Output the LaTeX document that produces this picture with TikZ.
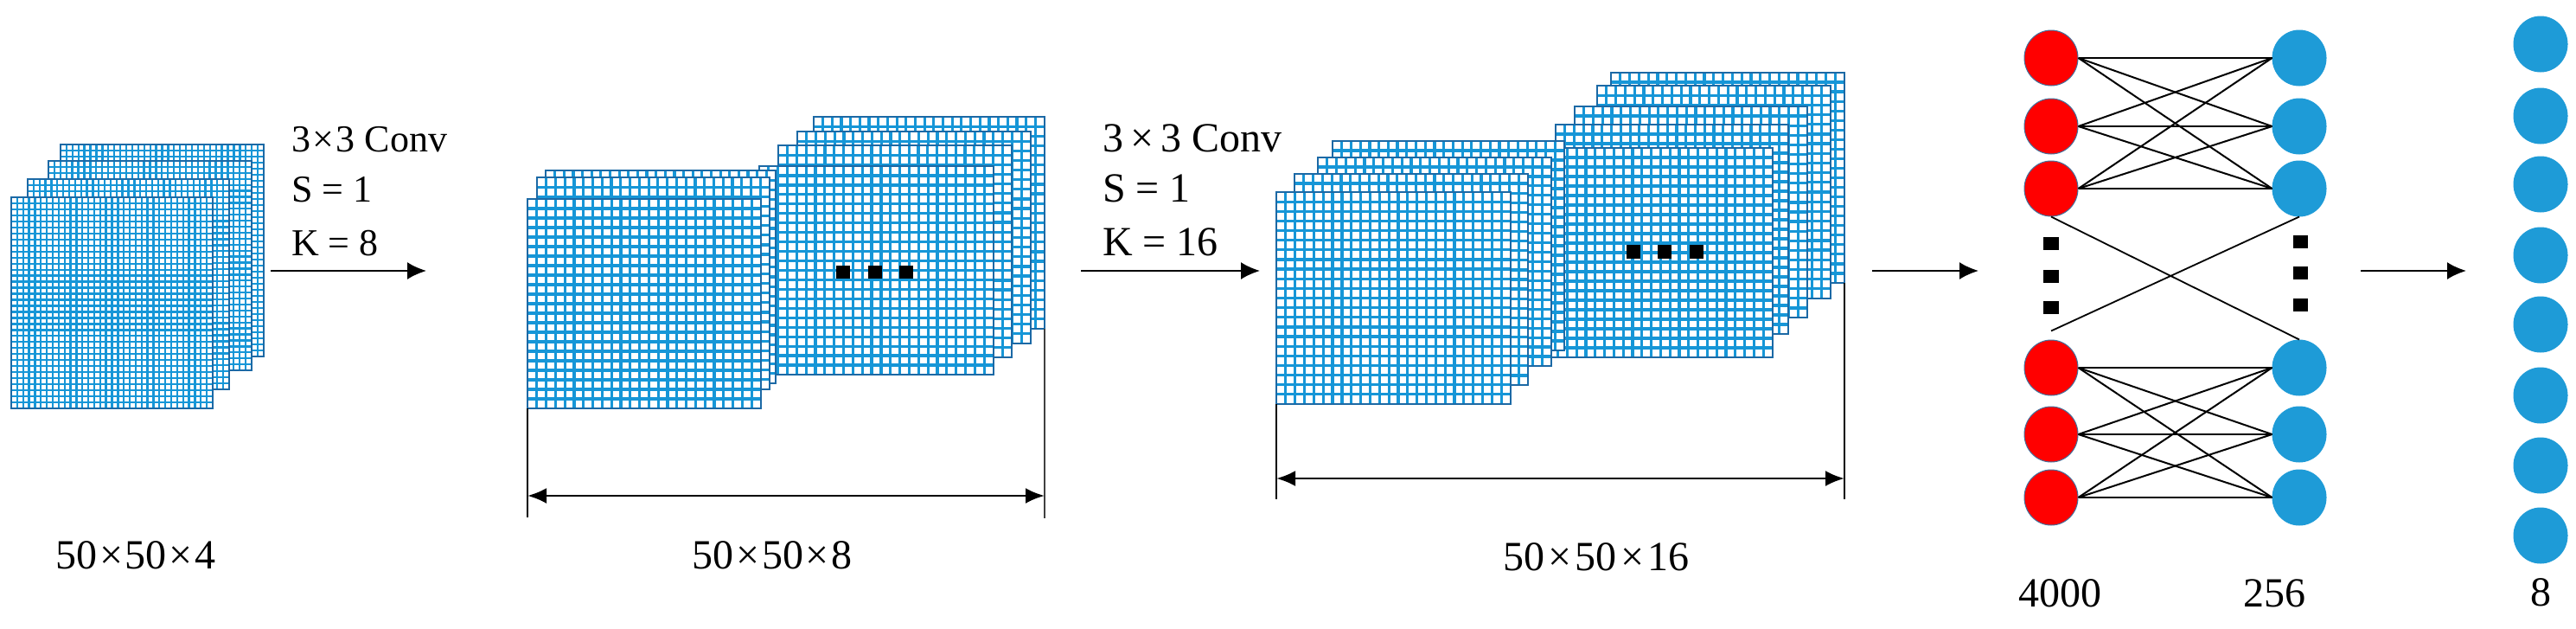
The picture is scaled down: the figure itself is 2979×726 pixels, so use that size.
\documentclass[tikz,border=0pt]{standalone}
\usepackage{fontspec}
\setmainfont{Liberation Serif}
\usetikzlibrary{arrows.meta,shapes.geometric}
\definecolor{gridblue}{RGB}{22,150,215}
\definecolor{gridedge}{RGB}{28,105,165}
\definecolor{nodeblue}{RGB}{30,155,215}
\definecolor{nodeedge}{RGB}{65,113,156}
\newcommand\glayer[7]{%
  \fill[white] (#1,#2) rectangle (#3,#4);
  \pgfmathtruncatemacro\gnx{#5-1}%
  \pgfmathtruncatemacro\gny{#6-1}%
  \foreach \k in {1,...,\gnx}{\draw[gridblue,line width=#7] ({#1+(#3-#1)*\k/#5},#2) -- ({#1+(#3-#1)*\k/#5},#4);}
  \foreach \k in {1,...,\gny}{\draw[gridblue,line width=#7] (#1,{#2+(#4-#2)*\k/#6}) -- (#3,{#2+(#4-#2)*\k/#6});}
  \draw[gridedge,line width=2.6pt] (#1,#2) rectangle (#3,#4);
}
\newcommand\tms{\kern2.5pt×\kern2.5pt}
\begin{document}
\begin{tikzpicture}[x=1pt,y=-1pt,
  font=\fontsize{48}{56}\selectfont,
  txt/.style={inner sep=0pt,anchor=base west},
  smalltxt/.style={inner sep=0pt,anchor=base west,font=\fontsize{44}{52}\selectfont},
  lbl/.style={inner sep=0pt,anchor=base},
  flow/.style={line width=2.2pt,-{Latex[length=22pt,width=20pt]}},
  dimarrow/.style={line width=2.8pt,{Latex[length=22pt,width=18pt]}-{Latex[length=22pt,width=18pt]}},
  ext/.style={line width=2pt},
  rnode/.style={ellipse,fill=red,draw=nodeedge,line width=1pt,minimum width=62pt,minimum height=64pt,inner sep=0pt},
  bnode/.style={ellipse,fill=nodeblue,draw=nodeblue,line width=1pt,minimum width=62pt,minimum height=64pt,inner sep=0pt},
  fc/.style={line width=2pt},
  dotsq/.style={fill=black}]
\fill[white] (0,0) rectangle (2979,726);
\useasboundingbox (0,0) rectangle (2979,726);

% stack 1
\glayer{70}{167}{305}{412}{34}{35}{2.3pt}
\glayer{56}{186}{291}{428}{34}{35}{2.3pt}
\glayer{32}{207}{265}{450}{34}{35}{2.3pt}
\glayer{13}{228}{246}{472}{34}{35}{2.3pt}

% stack 2
\glayer{941}{135}{1208}{380}{25}{22}{3.2pt}
\glayer{922}{152}{1192}{397}{25}{22}{3.2pt}
\glayer{900}{168}{1170}{413}{25}{22}{3.2pt}
\glayer{878}{192}{1149}{433}{25}{22}{3.2pt}
\glayer{631}{197}{897}{443}{25}{22}{3.2pt}
\glayer{621}{205}{890}{450}{25}{22}{3.2pt}
\glayer{610}{230}{880}{472}{25}{22}{3.2pt}
\foreach \cx in {975,1012,1048}{\fill[dotsq] (\cx-8,307) rectangle (\cx+8,322);}

% stack 3
\glayer{1863}{84}{2133}{327}{25}{22}{3.2pt}
\glayer{1847}{99}{2117}{345}{25}{22}{3.2pt}
\glayer{1821}{123}{2090}{367}{25}{22}{3.2pt}
\glayer{1799}{144}{2068}{386}{25}{22}{3.2pt}
\glayer{1780}{171}{2050}{413}{25}{22}{3.2pt}
\glayer{1541}{163}{1809}{405}{25}{22}{3.2pt}
\glayer{1524}{182}{1794}{423}{25}{22}{3.2pt}
\glayer{1497}{201}{1767}{445}{25}{22}{3.2pt}
\glayer{1476}{222}{1747}{467}{25}{22}{3.2pt}
\foreach \cx in {1889,1925,1962}{\fill[dotsq] (\cx-8,283) rectangle (\cx+8,299);}

% conv texts
\node[smalltxt] (c1a) at (337,175) {3\tms3 Conv};
\node[smalltxt] (c1b) at (337,233) {S = 1};
\node[smalltxt] (c1c) at (337,295) {K = 8};
\node[txt] (c2a) at (1275,175) {3\,×\,3 Conv};
\node[txt] (c2b) at (1275,233) {S = 1};
\node[txt] (c2c) at (1275,295) {K = 16};

% flow arrows
\coordinate (a1s) at (313,313); \coordinate (a1e) at (493,313);
\coordinate (a2s) at (1250,313); \coordinate (a2e) at (1457,313);
\coordinate (a3s) at (2165,313); \coordinate (a3e) at (2288,313);
\coordinate (a4s) at (2730,313); \coordinate (a4e) at (2852,313);
\draw[flow] (a1s) -- (a1e);
\draw[flow] (a2s) -- (a2e);
\draw[flow] (a3s) -- (a3e);
\draw[flow] (a4s) -- (a4e);

% dimension lines
\coordinate (d2a) at (610,472); \coordinate (d2b) at (610,598);
\coordinate (d2c) at (1208,380); \coordinate (d2d) at (1208,599);
\coordinate (d2l) at (610,573); \coordinate (d2r) at (1208,573);
\draw[ext] (d2a) -- (d2b);
\draw[ext,black!75] (d2c) -- (d2d);
\draw[dimarrow] (d2l) -- (d2r);
\coordinate (d3a) at (1476,467); \coordinate (d3b) at (1476,577);
\coordinate (d3c) at (2133,327); \coordinate (d3d) at (2133,577);
\coordinate (d3l) at (1476,553); \coordinate (d3r) at (2133,553);
\draw[ext] (d3a) -- (d3b);
\draw[ext] (d3c) -- (d3d);
\draw[dimarrow] (d3l) -- (d3r);

% labels
\node[lbl] (l1) at (157,657) {50\tms50\tms4};
\node[lbl] (l2) at (893,657) {50\tms50\tms8};
\node[lbl] (l3) at (1846,659) {50\kern4pt×\kern4pt50\kern4pt×\kern4pt16};
\node[lbl] (l4) at (2382,701) {4000};
\node[lbl] (l5) at (2630,701) {256};
\node[lbl] (l6) at (2938,700) {8};

% fully connected
\foreach \i/\yy in {1/67,2/146,3/218,4/425,5/502,6/575}{
  \node[rnode] (r\i) at (2372,\yy) {};
  \node[bnode] (b\i) at (2659,\yy) {};
}
\foreach \i in {1,2,3}{\foreach \j in {1,2,3}{\draw[fc] (r\i.east) -- (b\j.west);}}
\foreach \i in {4,5,6}{\foreach \j in {4,5,6}{\draw[fc] (r\i.east) -- (b\j.west);}}
\coordinate (x4) at ([yshift=10pt]r4.north);
\draw[fc,line width=1.8pt] (r3.south) -- (b4.north);
\draw[fc,line width=1.8pt] (b3.south) -- (x4);
\foreach \yy in {282,320,356}{\fill[dotsq] (2363,\yy-8) rectangle (2381,\yy+7);}
\foreach \yy in {280,316,353}{\fill[dotsq] (2652,\yy-8) rectangle (2669,\yy+7);}

% output layer
\foreach \i/\yy in {1/51,2/134,3/213,4/295,5/375,6/457,7/538,8/619}{
  \node[bnode] (o\i) at (2938,\yy) {};
}
\end{tikzpicture}
\end{document}
